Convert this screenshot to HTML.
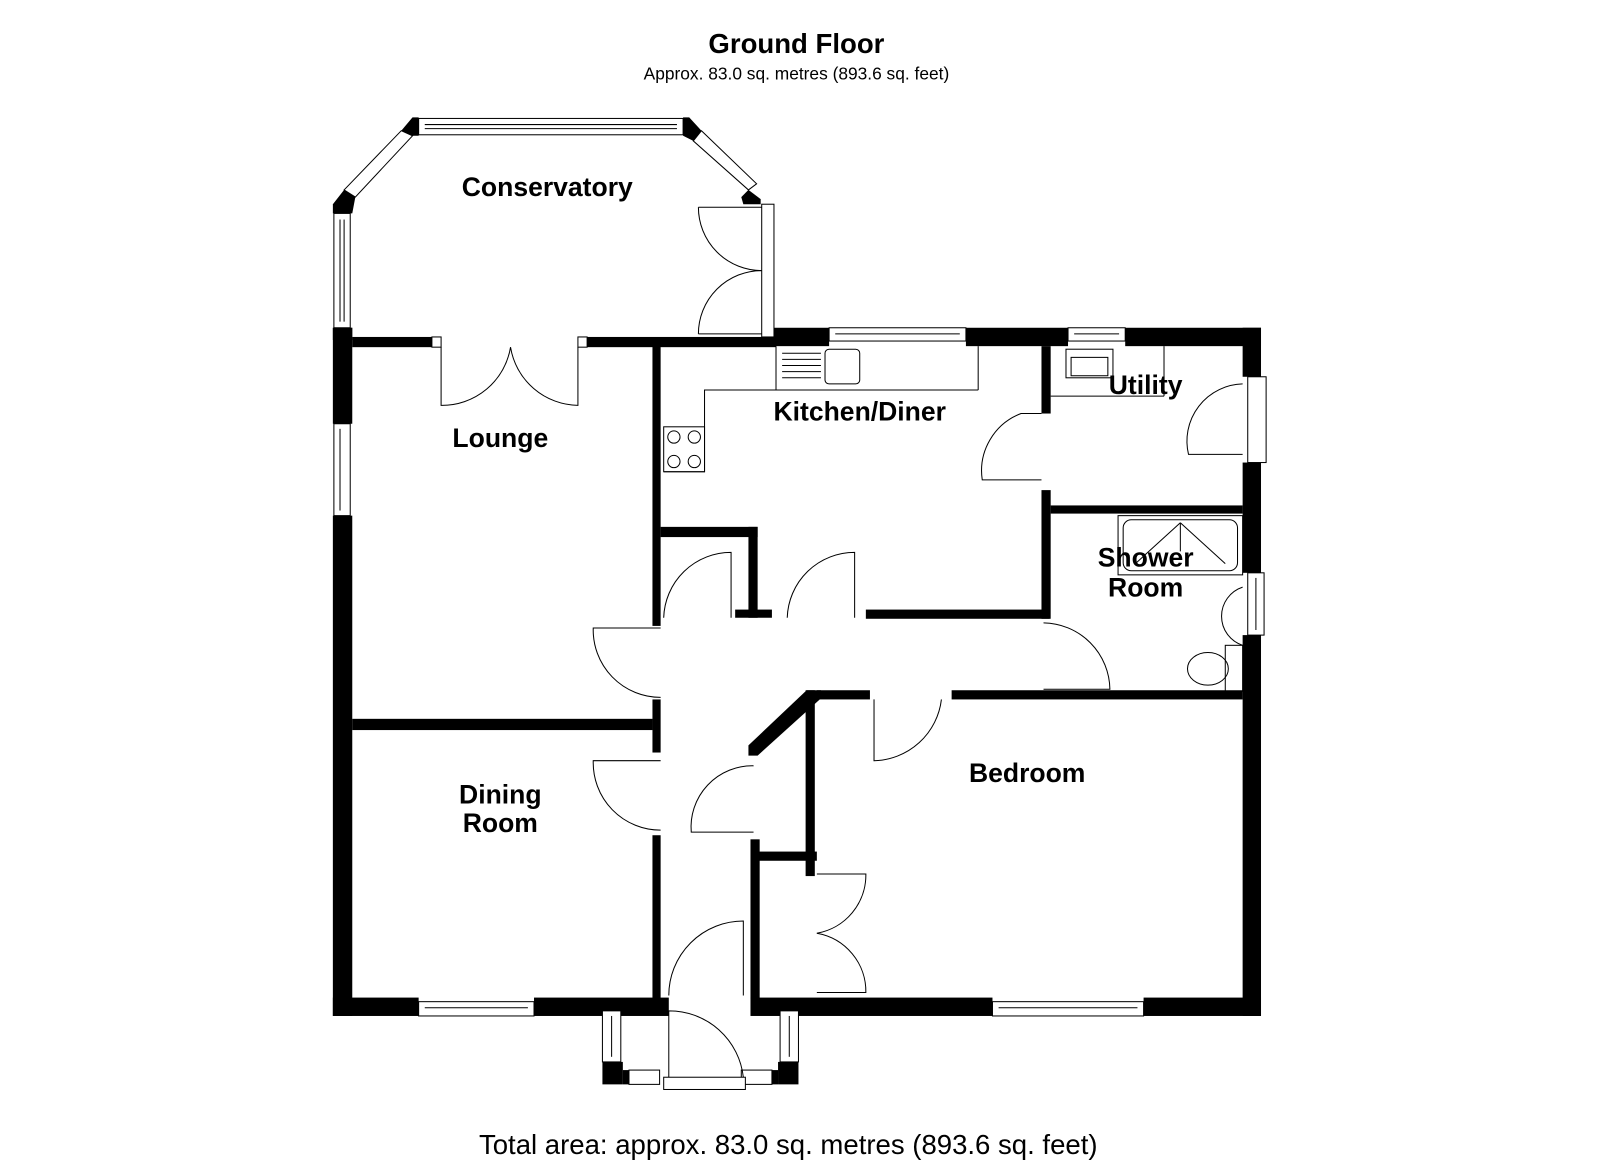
<!DOCTYPE html>
<html><head><meta charset="utf-8"><style>
html,body{margin:0;padding:0;background:#fff;width:1600px;height:1163px;overflow:hidden}
svg{display:block}
text{font-family:"Liberation Sans",Arial,sans-serif;fill:#000}
.t{font-weight:bold;font-size:26px}
</style></head><body>
<svg width="1600" height="1163" viewBox="0 0 1567 1139" preserveAspectRatio="none">
<g fill="#000">
<rect x="326" y="321" width="19" height="12"/>
<polygon points="326,200 337,186 348,193 345,209 326,209"/>
<polygon points="393,128 404,115 410,115 410,133 404,133"/>
<polygon points="669,115 675,115 687,128 679,138 669,133"/>
<polygon points="733,186 745,195 745,200 728,200 726,193"/>
<rect x="345" y="330" width="78" height="10"/>
<rect x="575" y="330" width="185" height="10"/>
<rect x="758" y="321" width="54" height="18"/>
<rect x="946" y="321" width="100" height="18"/>
<rect x="1102" y="321" width="133" height="18"/>
<rect x="1217" y="321" width="18" height="48"/>
<rect x="1217" y="453" width="18" height="108"/>
<rect x="1217" y="622" width="18" height="373"/>
<rect x="326" y="321" width="19" height="94"/>
<rect x="326" y="505" width="19" height="490"/>
<rect x="326" y="977" width="84" height="18"/>
<rect x="523" y="977" width="132" height="18"/>
<rect x="735" y="977" width="237" height="18"/>
<rect x="1120" y="977" width="115" height="18"/>
<rect x="590" y="985" width="20" height="5"/>
<rect x="590" y="1040" width="20" height="22"/>
<rect x="610" y="1048" width="6" height="14"/>
<rect x="762" y="985" width="20" height="5"/>
<rect x="762" y="1040" width="20" height="22"/>
<rect x="756" y="1048" width="6" height="14"/>
<rect x="639" y="339" width="8" height="274"/>
<rect x="639" y="685" width="8" height="52"/>
<rect x="639" y="818" width="8" height="160"/>
<rect x="345" y="704" width="294" height="11"/>
<rect x="647" y="516" width="95" height="10"/>
<rect x="733" y="516" width="9" height="89"/>
<rect x="720" y="597" width="36" height="8"/>
<rect x="848" y="597" width="180" height="9"/>
<rect x="1020" y="339" width="9" height="66"/>
<rect x="1020" y="480" width="9" height="126"/>
<rect x="1029" y="495" width="188" height="8"/>
<rect x="800" y="676" width="52" height="9"/>
<rect x="932" y="676" width="285" height="9"/>
<polygon points="790,676 804,676 804,684 742,740 733,740 733,730"/>
<rect x="789" y="676" width="9" height="160"/>
<rect x="738" y="834" width="62" height="9"/>
<rect x="789" y="834" width="9" height="24"/>
<rect x="735" y="822" width="9" height="156"/>
</g>
<g fill="#fff" stroke="#000" stroke-width="1">
<rect x="410" y="116" width="259" height="16"/><line x1="416" y1="122" x2="663" y2="122"/><line x1="416" y1="126" x2="663" y2="126"/>
<rect x="327" y="209" width="16" height="112"/><line x1="333" y1="215" x2="333" y2="315"/><line x1="337" y1="215" x2="337" y2="315"/>
<polygon points="337,186 393,128 404,133 348,193"/>
<polygon points="687,128 741,180 733,186 679,138"/>
<rect x="327" y="415" width="16" height="90"/><line x1="333" y1="420" x2="333" y2="500"/>
<rect x="812" y="321" width="134" height="13"/><line x1="818" y1="327" x2="940" y2="327"/>
<rect x="1046" y="321" width="56" height="13"/><line x1="1052" y1="327" x2="1096" y2="327"/>
<rect x="1222" y="369" width="18" height="84"/>
<rect x="1222" y="561" width="16" height="61"/><line x1="1230" y1="566" x2="1230" y2="617"/>
<rect x="410" y="981" width="113" height="14"/><line x1="416" y1="987" x2="517" y2="987"/>
<rect x="972" y="981" width="148" height="14"/><line x1="978" y1="987" x2="1114" y2="987"/>
<rect x="590" y="990" width="18" height="50"/><line x1="599" y1="995" x2="599" y2="1035"/>
<rect x="764" y="990" width="18" height="50"/><line x1="773" y1="995" x2="773" y2="1035"/>
<rect x="616" y="1048" width="30" height="14"/><rect x="726" y="1048" width="30" height="14"/>
<rect x="650" y="1055" width="80" height="12"/>
<rect x="423" y="330" width="9" height="10"/><rect x="566" y="330" width="9" height="10"/>
<rect x="746" y="200" width="12" height="130"/>
</g>
<g fill="none" stroke="#000" stroke-width="1">
<path d="M684,203 A62,62 0 0 0 746,265"/><path d="M684,327 A62,62 0 0 1 746,265"/>
<line x1="684" y1="203" x2="746" y2="203"/><line x1="684" y1="327" x2="746" y2="327"/>
<path d="M432,340 V397 A68,68 0 0 0 500,340"/><path d="M566,340 V397 A68,68 0 0 1 500,340"/>
<path d="M647,615 H581 A66,66 0 0 0 647,683"/>
<path d="M647,745 H581 A66,66 0 0 0 647,813"/>
<path d="M716,605 V541 A66,66 0 0 0 650,605"/>
<path d="M837,605 V541 A66,66 0 0 0 771,605"/>
<path d="M1020,405 H1000 A60,60 0 0 0 962,470 H1020"/>
<path d="M1217,376 A56,56 0 0 0 1164,445 H1217"/>
<path d="M1022,610 A66,66 0 0 1 1087,675 H1022"/>
<path d="M856,685 V745 A68,68 0 0 0 922,685"/>
<path d="M738,750 A60,60 0 0 0 677,815 H738"/>
<path d="M800,856 H848 A58,58 0 0 1 800,914"/><path d="M800,972 H848 A58,58 0 0 0 800,914"/>
<path d="M655,975 A73,73 0 0 1 728,902 V975"/>
<path d="M655,1055 V990 A73,73 0 0 1 728,1055"/>
<path d="M760,339 V382 H690 V462 H650"/>
<line x1="760" y1="382" x2="958" y2="382"/><line x1="958" y1="339" x2="958" y2="382"/>
<rect x="650" y="418" width="40" height="44"/>
<circle cx="660" cy="428" r="6"/><circle cx="680" cy="428" r="6"/><circle cx="660" cy="452" r="6"/><circle cx="680" cy="452" r="6"/>
<rect x="808" y="342" width="34" height="34" rx="4"/>
<line x1="766" y1="346" x2="804" y2="346"/><line x1="766" y1="352" x2="804" y2="352"/><line x1="766" y1="358" x2="804" y2="358"/><line x1="766" y1="364" x2="804" y2="364"/><line x1="766" y1="370" x2="804" y2="370"/>
<rect x="1044" y="342" width="46" height="28"/><rect x="1049" y="350" width="36" height="18"/><line x1="1029" y1="388" x2="1140" y2="388"/><line x1="1140" y1="339" x2="1140" y2="388"/>
<rect x="1095" y="505" width="122" height="58"/><rect x="1100" y="509" width="112" height="50" rx="8"/>
<line x1="1156" y1="512" x2="1112" y2="552"/><line x1="1156" y1="512" x2="1200" y2="552"/><line x1="1156" y1="512" x2="1156" y2="540"/>
<path d="M1217,575 A30,30 0 0 0 1217,632"/>
<rect x="1200" y="632" width="17" height="45"/><ellipse cx="1183" cy="655" rx="20" ry="16"/>
</g>
<text x="780" y="52" text-anchor="middle" class="t" style="font-size:27px">Ground Floor</text>
<text x="780" y="78" text-anchor="middle" style="font-size:17px">Approx. 83.0 sq. metres (893.6 sq. feet)</text>
<text x="536" y="192" text-anchor="middle" class="t">Conservatory</text>
<text x="490" y="438" text-anchor="middle" class="t">Lounge</text>
<text x="842" y="412" text-anchor="middle" class="t">Kitchen/Diner</text>
<text x="1122" y="386" text-anchor="middle" class="t">Utility</text>
<text x="1122" y="555" text-anchor="middle" class="t">Shower</text>
<text x="1122" y="584" text-anchor="middle" class="t">Room</text>
<text x="490" y="787" text-anchor="middle" class="t">Dining</text>
<text x="490" y="815" text-anchor="middle" class="t">Room</text>
<text x="1006" y="766" text-anchor="middle" class="t">Bedroom</text>
<text x="772" y="1130" text-anchor="middle" style="font-size:27px">Total area: approx. 83.0 sq. metres (893.6 sq. feet)</text>
</svg>
</body></html>
